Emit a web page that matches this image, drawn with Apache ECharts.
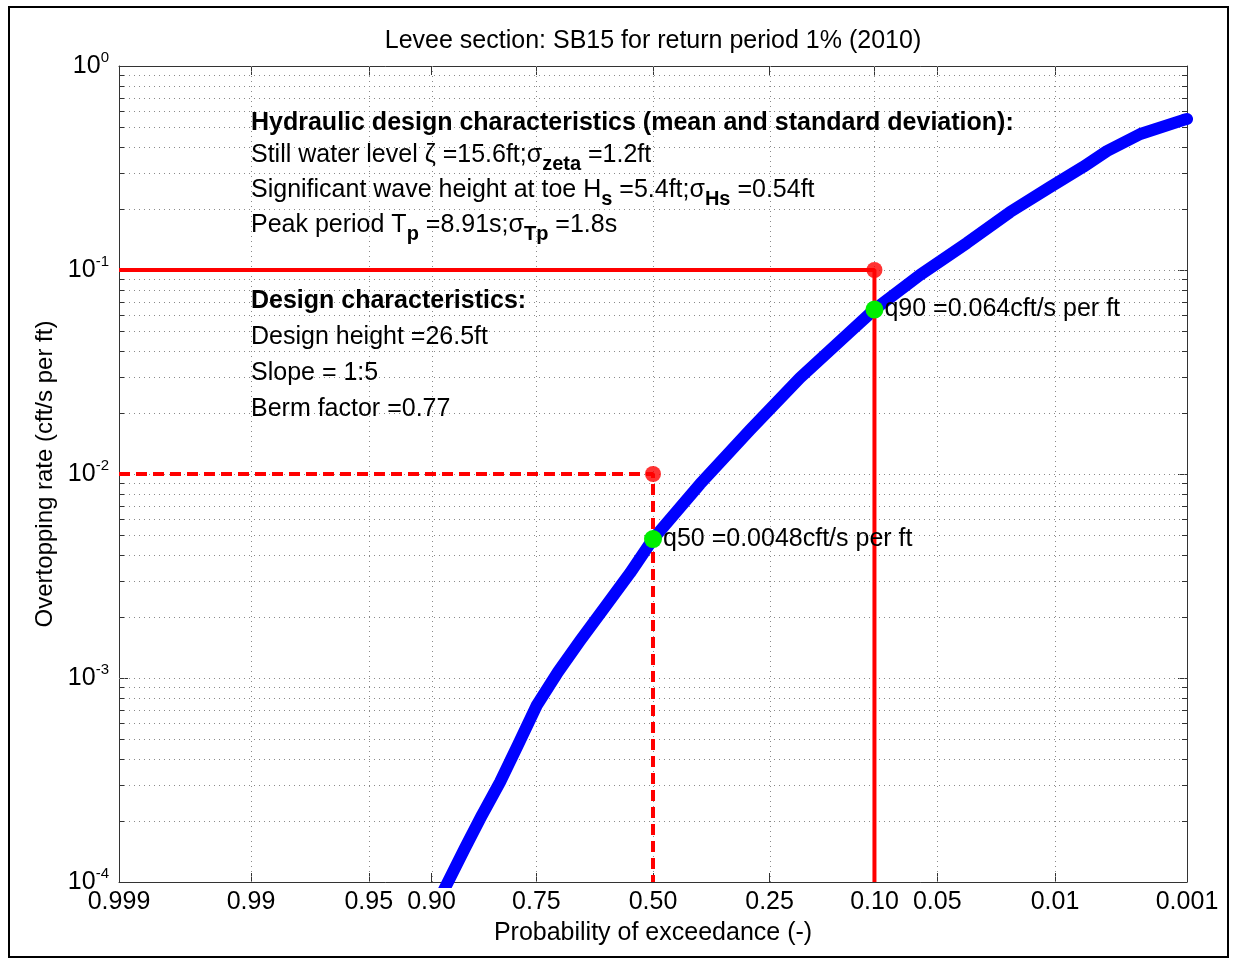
<!DOCTYPE html>
<html><head><meta charset="utf-8">
<script src="https://cdn.jsdelivr.net/npm/echarts@6/dist/echarts.min.js"></script>
<style>html,body{margin:0;padding:0;background:#fff}#c{width:1236px;height:960px}</style>
</head><body><div id="c"></div>
<script>
// ---------- data ----------
const titleText = 'Levee section: SB15 for return period 1% (2010)';
const xAxisName = 'Probability of exceedance (-)';
const yAxisName = 'Overtopping rate (cft/s per ft)';
const xTickProbs = [0.999, 0.99, 0.95, 0.90, 0.75, 0.50, 0.25, 0.10, 0.05, 0.01, 0.001];
const xTickLabels = ['0.999', '0.99', '0.95', '0.90', '0.75', '0.50', '0.25', '0.10', '0.05', '0.01', '0.001'];
const yMin = 1e-4, yMax = 1;
const decadeExponents = [-4, -3, -2, -1];
const minorMantissas = [2, 3, 4, 5, 6, 7, 8, 9];
const exceedanceProb = [0.8868, 0.8617, 0.8388, 0.8120, 0.7827, 0.7490, 0.7088, 0.6637, 0.6094, 0.5529, 0.500,
  0.3928, 0.2873, 0.1975, 0.1271, 0.100, 0.0612, 0.0346, 0.0194, 0.0108, 0.0064, 0.0043, 0.0024, 0.00108, 0.0010];
const overtoppingRate = [9.14e-5, 1.468e-4, 2.13e-4, 3.09e-4, 4.70e-4, 7.38e-4, 1.07e-3, 1.52e-3, 2.23e-3, 3.27e-3, 4.8e-3,
  8.93e-3, 0.01643, 0.0296, 0.0497, 0.064, 0.0945, 0.1357, 0.1924, 0.255, 0.320, 0.383, 0.464, 0.543, 0.55];
const targetProbs = [0.50, 0.10];
const targetRates = [0.01, 0.1];
const quantileRates = [0.0048, 0.064];
const quantileLabels = ['q50 =0.0048cft/s per ft', 'q90 =0.064cft/s per ft'];
const infoLines = [
  '{h|Hydraulic design characteristics (mean and standard deviation):}',
  '{n|Still water level ζ =15.6ft;σ}{s|zeta}{n| =1.2ft}',
  '{n|Significant wave height at toe H}{s|s}{n| =5.4ft;σ}{s|Hs}{n| =0.54ft}',
  '{n|Peak period T}{s|p}{n| =8.91s;σ}{s|Tp}{n| =1.8s}',
  '{h|Design characteristics:}',
  '{n|Design height =26.5ft}',
  '{n|Slope = 1:5}',
  '{n|Berm factor =0.77}'
];
const infoLineY = [123, 155, 190, 225, 301, 337, 373, 409];

// ---------- normal probability scale ----------
function probit(p) {
  const a = [-3.969683028665376e+01, 2.209460984245205e+02, -2.759285104469687e+02, 1.383577518672690e+02, -3.066479806614716e+01, 2.506628277459239e+00];
  const b = [-5.447609879822406e+01, 1.615858368580409e+02, -1.556989798598866e+02, 6.680131188771972e+01, -1.328068155288572e+01];
  const c = [-7.784894002430293e-03, -3.223964580411365e-01, -2.400758277161838e+00, -2.549671348400218e+00, 4.374664141464968e+00, 2.938163982698783e+00];
  const d = [7.784695709041462e-03, 3.224671290700398e-01, 2.445134137142996e+00, 3.754408661907416e+00];
  const pl = 0.02425, ph = 1 - pl;
  let q, r;
  if (p < pl) { q = Math.sqrt(-2 * Math.log(p)); return (((((c[0]*q+c[1])*q+c[2])*q+c[3])*q+c[4])*q+c[5]) / ((((d[0]*q+d[1])*q+d[2])*q+d[3])*q+1); }
  if (p > ph) { q = Math.sqrt(-2 * Math.log(1 - p)); return -(((((c[0]*q+c[1])*q+c[2])*q+c[3])*q+c[4])*q+c[5]) / ((((d[0]*q+d[1])*q+d[2])*q+d[3])*q+1); }
  q = p - 0.5; r = q * q;
  return (((((a[0]*r+a[1])*r+a[2])*r+a[3])*r+a[4])*r+a[5])*q / (((((b[0]*r+b[1])*r+b[2])*r+b[3])*r+b[4])*r+1);
}
const toX = p => -probit(p);

const FONT = '"Liberation Sans", Arial, sans-serif';
const xTickZ = xTickProbs.map(toX);
const zMin = xTickZ[0], zMax = xTickZ[xTickZ.length - 1];
const curve = exceedanceProb.map((p, i) => [toX(p), overtoppingRate[i]]);
const hGrid = [];
decadeExponents.forEach(e => {
  const base = Math.pow(10, e);
  if (e > decadeExponents[0]) hGrid.push([zMin, base, 0]);
  minorMantissas.forEach(m => hGrid.push([zMin, m * base, 1]));
});
const vGrid = xTickZ.slice(1, -1).map(z => [z, yMin]);
const solidPath = [[zMin, targetRates[1]], [toX(targetProbs[1]), targetRates[1]], [toX(targetProbs[1]), yMin]];
const dashPath = [[zMin, targetRates[0]], [toX(targetProbs[0]), targetRates[0]], [toX(targetProbs[0]), yMin]];
const redDots = targetProbs.map((p, i) => [toX(p), targetRates[i]]);
const greenDots = targetProbs.map((p, i) => [toX(p), quantileRates[i]]);

const GRID_COLOR = '#8a8a8a';
const chart = echarts.init(document.getElementById('c'), null, { renderer: 'canvas' });

function xLabel(v) {
  let best = 0, bd = Infinity;
  xTickZ.forEach((z, i) => { const d = Math.abs(z - v); if (d < bd) { bd = d; best = i; } });
  return xTickLabels[best];
}

const option = {
  animation: false,
  backgroundColor: '#fff',
  grid: { left: 119, top: 66, width: 1068, height: 816, containLabel: false },
  xAxis: [{
    type: 'value', min: zMin, max: zMax, position: 'bottom',
    axisLine: { show: true, onZero: false, lineStyle: { color: '#333', width: 1 } },
    axisTick: { show: true, inside: true, length: 9, customValues: xTickZ, lineStyle: { color: '#333' } },
    axisLabel: { show: true, customValues: xTickZ, formatter: xLabel, fontSize: 25, fontFamily: FONT, color: '#000', margin: 8 },
    splitLine: { show: false },
    name: xAxisName, nameLocation: 'middle', nameGap: 39,
    nameTextStyle: { fontSize: 25, fontFamily: FONT, color: '#000' }
  }, {
    type: 'value', min: zMin, max: zMax, position: 'top',
    axisLine: { show: true, onZero: false, lineStyle: { color: '#333', width: 1 } },
    axisTick: { show: true, inside: true, length: 9, customValues: xTickZ, lineStyle: { color: '#333' } },
    axisLabel: { show: false }, splitLine: { show: false }
  }],
  yAxis: [{
    type: 'log', logBase: 10, min: yMin, max: yMax, position: 'left',
    axisLine: { show: true, onZero: false, lineStyle: { color: '#333', width: 1 } },
    axisTick: { show: true, inside: true, length: 9, lineStyle: { color: '#333' } },
    axisLabel: {
      formatter: v => '{b|10}{s|' + Math.round(Math.log10(v)) + '}',
      margin: 10,
      rich: {
        b: { fontSize: 25, fontFamily: FONT, color: '#000' },
        s: { fontSize: 15, fontFamily: FONT, color: '#000', padding: [0, 0, 16, 0] }
      }
    },
    splitLine: { show: false },
    name: yAxisName, nameLocation: 'middle', nameGap: 56,
    nameTextStyle: { fontSize: 24, fontFamily: FONT, color: '#000' }
  }, {
    type: 'log', logBase: 10, min: yMin, max: yMax, position: 'right',
    axisLine: { show: true, onZero: false, lineStyle: { color: '#333', width: 1 } },
    axisTick: { show: true, inside: true, length: 9, lineStyle: { color: '#333' } },
    axisLabel: { show: false }, splitLine: { show: false }
  }],
  series: [
    {
      type: 'custom', silent: true, z: 1, clip: true,
      data: hGrid,
      renderItem(params, api) {
        const cs = params.coordSys;
        const y = Math.round(api.coord([api.value(0), api.value(1)])[1]) + 0.5;
        const children = [{ type: 'line', shape: { x1: cs.x, y1: y, x2: cs.x + cs.width, y2: y }, style: { stroke: GRID_COLOR, lineWidth: 1, lineDash: [1, 4] } }];
        if (api.value(2) === 1) {
          children.push({ type: 'line', shape: { x1: cs.x, y1: y, x2: cs.x + 5, y2: y }, style: { stroke: '#333', lineWidth: 1 } });
          children.push({ type: 'line', shape: { x1: cs.x + cs.width - 5, y1: y, x2: cs.x + cs.width, y2: y }, style: { stroke: '#333', lineWidth: 1 } });
        }
        return { type: 'group', children };
      }
    },
    {
      type: 'custom', silent: true, z: 1, clip: true,
      data: vGrid,
      renderItem(params, api) {
        const cs = params.coordSys;
        const x = Math.round(api.coord([api.value(0), api.value(1)])[0]) + 0.5;
        return { type: 'line', shape: { x1: x, y1: cs.y, x2: x, y2: cs.y + cs.height }, style: { stroke: GRID_COLOR, lineWidth: 1, lineDash: [1, 4] } };
      }
    },
    {
      type: 'line', data: curve, showSymbol: false, symbol: 'none', smooth: false, z: 3, clip: true,
      lineStyle: { color: '#0000ff', width: 12, cap: 'round', join: 'round' }
    },
    {
      type: 'line', data: solidPath, symbol: 'none', z: 4,
      lineStyle: { color: '#ff0000', width: 4 }
    },
    {
      type: 'line', data: dashPath, symbol: 'none', z: 4,
      lineStyle: { color: '#ff0000', width: 4, type: [11, 6] }
    },
    {
      type: 'scatter', data: redDots, symbol: 'circle', symbolSize: 16, z: 5,
      itemStyle: { color: '#ff0000' }
    },
    {
      type: 'scatter', data: greenDots, symbol: 'circle', symbolSize: 18, z: 6,
      itemStyle: { color: '#00ee00', opacity: 1 },
      label: {
        show: true, position: 'right', distance: 1,
        formatter: p => quantileLabels[p.dataIndex],
        fontSize: 25, fontFamily: FONT, color: '#000', opacity: 1, textBorderWidth: 0
      }
    }
  ],
  graphic: [
    { type: 'rect', silent: true, shape: { x: 9, y: 7, width: 1219, height: 950 }, style: { fill: 'none', stroke: '#000', lineWidth: 2 } },
    { type: 'text', silent: true, x: 653, y: 41, style: { text: titleText, font: '25px ' + FONT, fill: '#000', align: 'center', verticalAlign: 'middle', textAlign: 'center', textVerticalAlign: 'middle' } }
  ].concat(infoLines.map((t, i) => ({
    type: 'text', silent: true, x: 251, y: infoLineY[i], z: 10,
    style: {
      text: t, align: 'left', verticalAlign: 'middle', textAlign: 'left', textVerticalAlign: 'middle',
      rich: {
        h: { fontSize: 25, fontWeight: 'bold', fontFamily: FONT, fill: '#000' },
        n: { fontSize: 25, fontFamily: FONT, fill: '#000' },
        s: { fontSize: 20, fontWeight: 'bold', fontFamily: FONT, fill: '#000', padding: [18, 0, 0, 0] }
      }
    }
  })))
};
chart.setOption(option);
</script>
</body></html>
